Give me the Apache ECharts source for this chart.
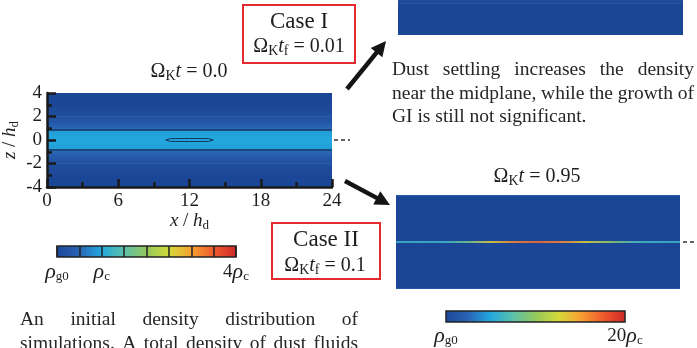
<!DOCTYPE html>
<html><head><meta charset="utf-8">
<script src="https://cdn.jsdelivr.net/npm/echarts@6/dist/echarts.min.js"></script>
<style>html,body{margin:0;padding:0;background:#fff}#c{width:697px;height:348px}</style>
</head><body><div id="c"></div>
<script>
// ---------------- data ----------------
const xTicks = [0, 6, 12, 18, 24];          // x / h_d
const zTicks = [-4, -2, 0, 2, 4];           // z / h_d
// initial (Omega_K t = 0) vertical density profile, units of rho_c (uniform in x)
const zInit   = [-4, -3, -2.5, -2, -1.5, -1.2, -0.95, -0.8, -0.4, 0, 0.4, 0.8, 0.95, 1.2, 1.5, 2, 2.5, 3, 4];
const rhoInit = [0, 0.02, 0.06, 0.15, 0.3, 0.42, 0.55, 0.92, 0.97, 1.0, 0.97, 0.92, 0.55, 0.42, 0.3, 0.15, 0.06, 0.02, 0];
// contour lines of the initial state
const contourZ = [-0.85, 0.85];
const blobX = [10.0, 10.4, 12.0, 13.6, 14.0, 13.6, 12.0, 10.4, 10.0];
const blobZ = [0, 0.12, 0.13, 0.12, 0, -0.12, -0.13, -0.12, 0];
// Case I panel (only its lower part, z from -4 to -1, is visible), units of rho_c
const zCase1   = [-4, -1.3, -1.0, -0.7, -0.3, 0, 0.3, 0.7, 1.0, 1.3, 4];
const rhoCase1 = [0, 0, 0.1, 0.3, 1.5, 2.5, 1.5, 0.3, 0.1, 0, 0];
const case1ZView = [-4, -1];
// Case II at Omega_K t = 0.95, units of rho_c (0 - 20 scale)
const zCase2   = [-4, -3.92, -3.86, 3.86, 3.92, 4];
const rhoCase2 = [2.8, 0.4, 0, 0, 0.4, 2.8];
const xMid   = [0, 2, 4, 6, 8, 10, 12, 14, 16, 18, 20, 22, 24];
const rhoMid = [6, 6, 6, 8.5, 13, 16, 17, 16, 13, 10, 7, 6, 6];
const midHalfWidth = 0.075;
// colour bars
const cbar1Max = 4, cbar1Ticks = [0, 1, 4];
const cbar1Labels = ['{p|ρ}{s|g0}', '{p|ρ}{s|c}', '{r|4}{p|ρ}{s|c}'];
const cbar2Max = 20, cbar2Ticks = [0, 20];
const cbar2Labels = ['{p|ρ}{s|g0}', '{r|20}{p|ρ}{s|c}'];
const palette = ['#1b4698', '#2a64b4', '#22a8de', '#5cc0aa', '#94c85c', '#d2da3a', '#f8a030', '#ef5a2e', '#cc2828'];

// ---------------- helpers ----------------
const FONT = '"Liberation Serif", "Times New Roman", serif';
const INK = '#1e1e1e';
const cmap = t => echarts.color.lerp(Math.max(0, Math.min(1, t)), palette);
function rich(size, sub) {
  return {
    o: {fontFamily: FONT, fontSize: size, lineHeight: size + 3, color: INK, fill: INK},
    r: {fontFamily: FONT, fontSize: size, lineHeight: size + 3, color: INK, fill: INK},
    p: {fontFamily: FONT, fontSize: size + 3, fontStyle: 'italic', lineHeight: size + 3, color: INK, fill: INK},
    i: {fontFamily: FONT, fontSize: size, fontStyle: 'italic', lineHeight: size + 3, color: INK, fill: INK},
    s: {fontFamily: FONT, fontSize: sub, lineHeight: sub, verticalAlign: 'bottom', color: INK, fill: INK}
  };
}
function profileSeries(g, zs, rhos, vmax) {
  const data = [];
  for (let i = 0; i < zs.length - 1; i++) data.push([zs[i], rhos[i], zs[i + 1], rhos[i + 1]]);
  const x0 = xTicks[0], x1 = xTicks[xTicks.length - 1];
  return {
    type: 'custom', xAxisIndex: g, yAxisIndex: g, clip: true, silent: true, z: 2, data,
    renderItem(params, api) {
      const za = api.value(0), ra = api.value(1), zb = api.value(2), rb = api.value(3);
      const pTop = api.coord([x0, zb]), pBot = api.coord([x1, za]);
      return {type: 'rect',
        shape: {x: pTop[0], y: pTop[1] - 0.3, width: pBot[0] - pTop[0], height: pBot[1] - pTop[1] + 0.6},
        style: {fill: new echarts.graphic.LinearGradient(0, 0, 0, 1, [
          {offset: 0, color: cmap(rb / vmax)}, {offset: 1, color: cmap(ra / vmax)}])}};
    }
  };
}
function midlineSeries(g, xs, rhos, half, vmax) {
  const data = [];
  for (let i = 0; i < xs.length - 1; i++) data.push([xs[i], rhos[i], xs[i + 1], rhos[i + 1]]);
  return {
    type: 'custom', xAxisIndex: g, yAxisIndex: g, clip: true, silent: true, z: 3, data,
    renderItem(params, api) {
      const xa = api.value(0), ra = api.value(1), xb = api.value(2), rb = api.value(3);
      const p0 = api.coord([xa, half]), p1 = api.coord([xb, -half]);
      return {type: 'rect',
        shape: {x: p0[0] - 0.3, y: p0[1], width: p1[0] - p0[0] + 0.6, height: p1[1] - p0[1]},
        style: {fill: new echarts.graphic.LinearGradient(0, 0, 1, 0, [
          {offset: 0, color: cmap(ra / vmax)}, {offset: 1, color: cmap(rb / vmax)}])}};
    }
  };
}
function colorbarSeries(g, vmax) {
  return {
    type: 'custom', xAxisIndex: g, yAxisIndex: g, silent: true, z: 2, data: [[0, vmax]],
    renderItem(params, api) {
      const p0 = api.coord([api.value(0), 1]), p1 = api.coord([api.value(1), 0]);
      return {type: 'rect',
        shape: {x: p0[0], y: p0[1], width: p1[0] - p0[0], height: p1[1] - p0[1]},
        style: {stroke: '#222', lineWidth: 1.5,
          fill: new echarts.graphic.LinearGradient(0, 0, 1, 0,
            palette.map((c, i) => ({offset: i / (palette.length - 1), color: c})))}};
    }
  };
}
const mctx = document.createElement('canvas').getContext('2d');
function textEl(txt, x, y, size, align) {
  return {type: 'text', x, y, silent: true, style: {text: txt, fontFamily: FONT, fontSize: size, fill: '#262626',
    textAlign: align || 'left', align: align || 'left', textVerticalAlign: 'middle', verticalAlign: 'middle'}};
}
function justify(words, x0, x1, y, size) {
  mctx.font = size + 'px ' + FONT;
  const ws = words.map(w => mctx.measureText(w).width);
  const gap = (x1 - x0 - ws.reduce((a, b) => a + b, 0)) / (words.length - 1);
  let x = x0;
  return words.map((w, i) => { const el = textEl(w, x, y, size); x += ws[i] + gap; return el; });
}
function richText(txt, x, y, size, sub) {
  return {type: 'text', x, y, silent: true, style: {text: txt, rich: rich(size, sub),
    textAlign: 'center', align: 'center', textVerticalAlign: 'middle', verticalAlign: 'middle'}};
}
function arrow(x0, y0, x1, y1) {
  const len = Math.hypot(x1 - x0, y1 - y0), ux = (x1 - x0) / len, uy = (y1 - y0) / len;
  const L = 15, W = 7.5, bx = x1 - ux * L, by = y1 - uy * L;
  return [
    {type: 'line', silent: true, shape: {x1: x0, y1: y0, x2: bx + ux * 2, y2: by + uy * 2}, style: {stroke: '#141414', lineWidth: 4.5}},
    {type: 'polygon', silent: true, shape: {points: [[x1, y1], [bx - uy * W, by + ux * W], [bx + uy * W, by - ux * W]]}, style: {fill: '#141414'}}
  ];
}
function box(x, y, w, h) {
  return {type: 'rect', silent: true, shape: {x, y, width: w, height: h}, style: {fill: '#fff', stroke: '#e52a2f', lineWidth: 2}};
}
function dashes(x0, x1, y) {
  return {type: 'line', silent: true, shape: {x1: x0, y1: y, x2: x1, y2: y}, style: {stroke: '#333', lineWidth: 1.5, lineDash: [4, 3]}};
}

// ---------------- chart ----------------
const axisInk = {color: '#1a1a1a', width: 2.5};
const hiddenX = g => ({gridIndex: g, type: 'value', min: xTicks[0], max: xTicks[xTicks.length - 1], show: false});
const hiddenY = (g, lo, hi) => ({gridIndex: g, type: 'value', min: lo, max: hi, show: false});

const series = [];
series.push(profileSeries(0, zInit, rhoInit, cbar1Max));
contourZ.forEach(z => series.push({type: 'line', xAxisIndex: 0, yAxisIndex: 0, z: 4, silent: true, symbol: 'none',
  data: [[xTicks[0], z], [xTicks[xTicks.length - 1], z]], lineStyle: {color: '#17335f', width: 1.3}}));
series.push({type: 'line', xAxisIndex: 0, yAxisIndex: 0, z: 4, silent: true, symbol: 'none',
  data: blobX.map((x, i) => [x, blobZ[i]]), lineStyle: {color: '#17335f', width: 1}});
series.push(profileSeries(1, zCase1, rhoCase1, cbar1Max));
series.push(profileSeries(2, zCase2, rhoCase2, cbar2Max));
series.push(midlineSeries(2, xMid, rhoMid, midHalfWidth, cbar2Max));
series.push(colorbarSeries(3, cbar1Max));
series.push(colorbarSeries(4, cbar2Max));

const graphics = [].concat(
  arrow(347, 89, 386, 41),
  arrow(345, 181, 390, 205),
  [box(243, 5, 112, 58), box(272, 223, 108, 56)],
  [richText('{o|Case I}', 299, 22, 23, 14), richText('{o|Ω}{s|K}{i|t}{s|f}{o| = 0.01}', 299, 47, 20, 14)],
  [richText('{o|Case II}', 326, 240, 23, 14), richText('{o|Ω}{s|K}{i|t}{s|f}{o| = 0.1}', 325, 266, 20, 14)],
  [richText('{o|Ω}{s|K}{i|t}{o| = 0.0}', 189, 72, 20, 14), richText('{o|Ω}{s|K}{i|t}{o| = 0.95}', 537, 177, 20, 14)],
  [dashes(334, 350, 140), dashes(683, 697, 242)],
  justify(['Dust', 'settling', 'increases', 'the', 'density'], 392, 694, 70, 19.5),
  justify(['near', 'the', 'midplane,', 'while', 'the', 'growth', 'of'], 392, 694, 94, 19.5),
  [textEl('GI is still not significant.', 392, 117, 19.5)],
  justify(['An', 'initial', 'density', 'distribution', 'of'], 20, 358, 320, 19.5),
  justify(['simulations.', 'A', 'total', 'density', 'of', 'dust', 'fluids'], 20, 358, 343.5, 19.5)
);

const chart = echarts.init(document.getElementById('c'), null, {renderer: 'canvas'});
chart.setOption({
  animation: false,
  backgroundColor: '#ffffff',
  grid: [
    {left: 47, top: 93, width: 285, height: 94, outerBoundsMode: 'none'},
    {left: 398, top: 0, width: 285, height: 35, outerBoundsMode: 'none'},
    {left: 396, top: 195, width: 284, height: 94, outerBoundsMode: 'none'},
    {left: 57, top: 246, width: 179, height: 11, outerBoundsMode: 'none'},
    {left: 446, top: 311, width: 179, height: 11, outerBoundsMode: 'none'}
  ],
  xAxis: [
    {gridIndex: 0, type: 'value', min: xTicks[0], max: xTicks[xTicks.length - 1], interval: xTicks[1] - xTicks[0], z: 5,
      axisLine: {onZero: false, lineStyle: axisInk},
      axisTick: {inside: true, length: 8, lineStyle: axisInk},
      minorTick: {show: true, splitNumber: 2, length: 5, lineStyle: axisInk},
      splitLine: {show: false},
      axisLabel: {fontFamily: FONT, fontSize: 19, color: INK, margin: 5},
      name: '{i|x}{o| / }{i|h}{s|d}', nameLocation: 'middle', nameGap: 23,
      nameTextStyle: {rich: rich(19, 13)}},
    hiddenX(1), hiddenX(2),
    {gridIndex: 3, type: 'value', min: 0, max: cbar1Max, interval: 0.5, z: 10,
      axisLine: {show: false}, axisTick: {show: false},
      splitLine: {show: true, lineStyle: {color: '#222', width: 1.5}},
      axisLabel: {margin: 4, rich: rich(19, 13), formatter: v => { const k = cbar1Ticks.indexOf(v); return k >= 0 ? cbar1Labels[k] : ''; }}},
    {gridIndex: 4, type: 'value', min: 0, max: cbar2Max, interval: cbar2Max, z: 10,
      axisLine: {show: false}, axisTick: {show: false}, splitLine: {show: false},
      axisLabel: {margin: 3, rich: rich(19, 13), formatter: v => { const k = cbar2Ticks.indexOf(v); return k >= 0 ? cbar2Labels[k] : ''; }}}
  ],
  yAxis: [
    {gridIndex: 0, type: 'value', min: zTicks[0], max: zTicks[zTicks.length - 1], interval: zTicks[1] - zTicks[0], z: 5,
      axisLine: {onZero: false, lineStyle: axisInk},
      axisTick: {inside: true, length: 9, lineStyle: axisInk},
      minorTick: {show: true, splitNumber: 2, length: 5, lineStyle: axisInk},
      splitLine: {show: false},
      axisLabel: {fontFamily: FONT, fontSize: 19, color: INK, margin: 5},
      name: '{i|z}{o| / }{i|h}{s|d}', nameLocation: 'middle', nameGap: 26,
      nameTextStyle: {rich: rich(19, 13)}},
    hiddenY(1, case1ZView[0], case1ZView[1]), hiddenY(2, zTicks[0], zTicks[zTicks.length - 1]),
    {gridIndex: 3, type: 'value', min: 0, max: 1, show: false},
    {gridIndex: 4, type: 'value', min: 0, max: 1, show: false}
  ],
  series,
  graphic: {elements: graphics}
});
</script>
</body></html>
